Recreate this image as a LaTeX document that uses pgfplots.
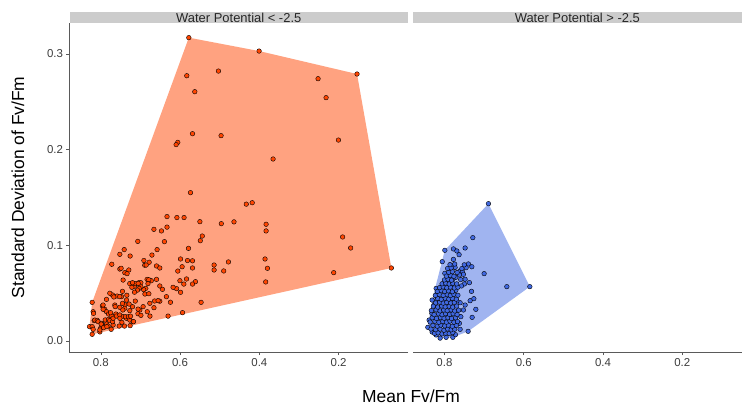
\documentclass[border=0pt]{standalone}
\usepackage{fontspec}
\setmainfont{Liberation Sans}
\usepackage{pgfplots}
\pgfplotsset{compat=1.18}

\definecolor{ptL}{RGB}{255,69,0}
\definecolor{hullL}{RGB}{255,162,128}
\definecolor{ptR}{RGB}{65,105,225}
\definecolor{hullR}{RGB}{160,180,240}
\definecolor{stripc}{RGB}{204,204,204}
\definecolor{axc}{RGB}{90,90,90}
\definecolor{tickc}{RGB}{60,60,60}

% left panel: water potential < -2.5
\pgfplotstableread{
x y
0.5780 0.3170
0.4007 0.3030
0.1536 0.2790
0.5032 0.2821
0.5831 0.2772
0.5629 0.2605
0.2519 0.2741
0.2317 0.2543
0.5687 0.2166
0.4966 0.2146
0.2005 0.2100
0.6058 0.2076
0.6100 0.2052
0.3654 0.1902
0.5738 0.1550
0.4330 0.1430
0.4180 0.1445
0.6330 0.1300
0.6080 0.1290
0.5900 0.1290
0.5500 0.1247
0.4960 0.1226
0.4640 0.1245
0.3830 0.1220
0.3830 0.1150
0.6330 0.1190
0.6470 0.1150
0.6660 0.1167
0.5440 0.1097
0.5490 0.1048
0.6395 0.1038
0.7067 0.1041
0.5788 0.0968
0.6580 0.0955
0.7410 0.0955
0.7520 0.0906
0.7260 0.0888
0.6710 0.0898
0.1900 0.1087
0.1697 0.0972
0.0670 0.0763
0.2124 0.0714
0.3857 0.0857
0.3796 0.0760
0.3840 0.0617
0.5142 0.0794
0.5142 0.0742
0.4780 0.0826
0.4899 0.0732
0.5989 0.0857
0.5813 0.0841
0.5687 0.0838
0.5687 0.0763
0.5949 0.0776
0.6058 0.0731
0.6595 0.0784
0.6913 0.0841
0.6780 0.0823
0.6892 0.0792
0.6855 0.0794
0.7723 0.0802
0.7520 0.0752
0.7294 0.0742
0.7395 0.0714
0.7488 0.0760
0.7337 0.0704
0.6512 0.0763
0.5838 0.0648
0.5612 0.0620
0.5687 0.0595
0.5906 0.0595
0.6004 0.0630
0.6088 0.0547
0.6177 0.0561
0.5989 0.0509
0.5938 0.0296
0.5470 0.0404
0.6303 0.0260
0.6243 0.0405
0.6345 0.0463
0.6512 0.0416
0.6643 0.0418
0.6555 0.0422
0.6512 0.0575
0.6445 0.0540
0.6595 0.0644
0.6726 0.0630
0.6832 0.0644
0.6790 0.0640
0.6810 0.0600
0.6865 0.0550
0.6920 0.0537
0.6990 0.0567
0.7034 0.0550
0.7075 0.0532
0.6887 0.0491
0.6788 0.0494
0.6764 0.0394
0.6933 0.0359
0.7016 0.0324
0.6659 0.0348
0.6828 0.0306
0.6760 0.0260
0.7063 0.0285
0.6988 0.0268
0.7060 0.0333
0.7200 0.0358
0.7130 0.0417
0.7150 0.0510
0.7150 0.0573
0.7217 0.0561
0.7133 0.0600
0.7040 0.0609
0.6990 0.0609
0.7058 0.0602
0.7270 0.0600
0.7200 0.0609
0.7437 0.0637
0.7344 0.0478
0.7352 0.0428
0.7395 0.0380
0.7285 0.0386
0.7454 0.0519
0.7478 0.0463
0.7589 0.0470
0.7705 0.0481
0.7773 0.0499
0.7672 0.0460
0.7522 0.0464
0.7453 0.0394
0.7647 0.0376
0.7521 0.0352
0.7395 0.0342
0.7269 0.0317
0.7857 0.0435
0.7960 0.0366
0.7942 0.0376
0.7899 0.0331
0.7856 0.0306
0.7942 0.0331
0.8218 0.0404
0.8194 0.0306
0.8184 0.0289
0.8218 0.0070
0.8285 0.0150
0.8218 0.0150
0.8167 0.0213
0.8151 0.0219
0.8090 0.0216
0.8068 0.0202
0.7983 0.0185
0.7856 0.0178
0.8007 0.0132
0.8024 0.0095
0.8025 0.0115
0.8193 0.0122
0.7941 0.0150
0.7815 0.0157
0.7689 0.0167
0.7991 0.0177
0.7889 0.0220
0.7931 0.0139
0.7805 0.0282
0.7721 0.0260
0.7754 0.0296
0.7620 0.0282
0.7805 0.0226
0.7773 0.0213
0.7705 0.0202
0.7689 0.0237
0.7605 0.0261
0.7521 0.0272
0.7437 0.0254
0.7353 0.0237
0.7269 0.0219
0.7185 0.0202
0.7738 0.0122
0.7847 0.0150
0.7519 0.0237
0.7536 0.0156
0.7402 0.0156
0.7469 0.0195
0.7377 0.0254
0.7302 0.0254
0.7260 0.0160
0.7175 0.0202
0.7250 0.0260
0.7445 0.0324
0.7638 0.0359
}\dataL

% right panel: water potential > -2.5
\pgfplotstableread{
x y
0.6890 0.1435
0.5846 0.0568
0.6426 0.0568
0.7284 0.1080
0.7990 0.0948
0.8055 0.0829
0.8209 0.0550
0.8134 0.0533
0.8419 0.0143
0.8108 0.0030
0.7788 0.0038
0.7957 0.0038
0.7402 0.0101
0.7722 0.0066
0.8310 0.0094
0.8209 0.0063
0.8386 0.0219
0.8318 0.0289
0.8310 0.0428
0.8260 0.0373
0.7478 0.0972
0.7773 0.0962
0.7687 0.0941
0.7630 0.0902
0.7773 0.0853
0.7395 0.0805
0.7309 0.0776
0.7453 0.0766
0.7773 0.0784
0.7731 0.0769
0.7612 0.0728
0.7546 0.0725
0.7521 0.0697
0.7622 0.0690
0.6999 0.0704
0.7990 0.0707
0.7856 0.0665
0.7788 0.0645
0.7713 0.0665
0.7478 0.0645
0.7370 0.0610
0.7496 0.0596
0.7571 0.0575
0.7881 0.0610
0.7965 0.0568
0.7813 0.0571
0.7713 0.0530
0.7317 0.0519
0.7258 0.0442
0.7352 0.0421
0.7478 0.0376
0.7208 0.0331
0.7301 0.0247
0.7604 0.0122
0.7622 0.0185
0.7586 0.0254
0.7521 0.0324
0.7604 0.0400
0.7687 0.0418
0.7773 0.0411
0.7874 0.0435
0.8025 0.0435
0.8126 0.0428
0.8192 0.0428
0.8250 0.0080
0.8160 0.0085
0.8060 0.0075
0.7970 0.0082
0.7880 0.0078
0.7790 0.0088
0.8340 0.0125
0.8220 0.0118
0.8110 0.0124
0.8010 0.0112
0.7920 0.0126
0.7830 0.0117
0.7740 0.0123
0.8290 0.0163
0.8180 0.0155
0.8090 0.0166
0.7990 0.0158
0.7900 0.0165
0.7800 0.0154
0.7700 0.0162
0.8360 0.0198
0.8240 0.0206
0.8140 0.0195
0.8040 0.0204
0.7950 0.0197
0.7860 0.0208
0.7760 0.0196
0.7670 0.0203
0.8310 0.0243
0.8200 0.0236
0.8100 0.0245
0.8010 0.0238
0.7910 0.0244
0.7820 0.0235
0.7720 0.0242
0.8260 0.0276
0.8150 0.0284
0.8060 0.0275
0.7970 0.0286
0.7870 0.0278
0.7780 0.0285
0.7680 0.0277
0.8330 0.0318
0.8210 0.0326
0.8110 0.0315
0.8020 0.0324
0.7930 0.0317
0.7830 0.0325
0.7740 0.0314
0.7640 0.0322
0.8280 0.0364
0.8170 0.0355
0.8070 0.0366
0.7980 0.0357
0.7880 0.0363
0.7790 0.0354
0.7690 0.0365
0.8220 0.0398
0.8120 0.0405
0.8030 0.0396
0.7940 0.0403
0.7840 0.0397
0.7750 0.0404
0.8170 0.0445
0.8080 0.0436
0.7980 0.0447
0.7890 0.0438
0.7800 0.0446
0.7700 0.0437
0.8230 0.0476
0.8130 0.0485
0.8030 0.0477
0.7930 0.0484
0.7850 0.0475
0.7760 0.0486
0.7660 0.0478
0.8180 0.0518
0.8080 0.0526
0.7990 0.0517
0.7900 0.0524
0.7800 0.0515
0.8120 0.0558
0.8030 0.0565
0.7940 0.0556
0.7850 0.0563
0.7750 0.0554
0.7660 0.0562
0.8060 0.0598
0.7970 0.0605
0.7880 0.0596
0.7790 0.0603
0.7690 0.0597
0.8000 0.0638
0.7910 0.0645
0.7820 0.0636
0.7590 0.0642
0.7950 0.0678
0.7850 0.0684
0.7760 0.0676
0.7890 0.0718
0.7800 0.0724
0.7680 0.0716
0.7920 0.0758
0.7830 0.0764
0.7560 0.0757
0.7860 0.0798
0.7740 0.0804
0.7500 0.0796
}\dataR

\begin{document}
\begin{tikzpicture}[x=1bp,y=1bp]
\path[use as bounding box] (0,0) rectangle (742,407);
\pgfplotsset{facet/.style={
  scale only axis, height=328.7bp,
  ymin=-0.0115, ymax=0.332, x dir=reverse,
  xtick={0.2,0.4,0.6,0.8},
  axis x line*=bottom,
  axis line style={draw=axc, line width=0.7bp, -},
  tick align=outside, major tick length=3bp,
  tick style={draw=axc, line width=0.6bp},
  ticklabel style={font=\fontsize{11.5}{13}\selectfont, text=tickc},
  /pgf/number format/assume math mode=true,
  xticklabel style={/pgf/number format/.cd, fixed, fixed zerofill, precision=1},
  yticklabel style={/pgf/number format/.cd, fixed, fixed zerofill, precision=1},
  clip=false}}

\begin{axis}[facet, name=L, at={(69.5bp,55bp)}, anchor=south west,
  width=338.5bp, xmin=0.025, xmax=0.879,
  axis y line*=left, ytick={0,0.1,0.2,0.3}]
\addplot[fill=hullL, draw=none] coordinates {(0.8285,0.0150) (0.8218,0.0070) (0.0670,0.0763) (0.1536,0.2790) (0.4007,0.3030) (0.5780,0.3170) (0.8218,0.0404) (0.8285,0.0150)};
\addplot[only marks, mark=*, mark size=2.3bp, mark options={fill=ptL, draw=black, line width=0.4bp}] table[x=x, y=y] {\dataL};
\end{axis}

\begin{axis}[facet, name=R, at={(412.7bp,55bp)}, anchor=south west,
  width=329.3bp, xmin=0.0495, xmax=0.88,
  axis y line=none, ytick=\empty]
\addplot[fill=hullR, draw=none] coordinates {(0.6890,0.1435) (0.5846,0.0568) (0.7402,0.0101) (0.7788,0.0038) (0.8108,0.0030) (0.8310,0.0094) (0.8419,0.0143) (0.8310,0.0428) (0.7990,0.0948) (0.6890,0.1435)};
\addplot[only marks, mark=*, mark size=2.3bp, mark options={fill=ptR, draw=black, line width=0.4bp}] table[x=x, y=y] {\dataR};
\end{axis}

\node[fill=stripc, anchor=south, minimum width=338.5bp, minimum height=11bp, inner sep=0pt,
  font=\fontsize{13}{13}\selectfont, text=black!85] at (L.north) {Water Potential < -2.5};
\node[fill=stripc, anchor=south, minimum width=329.3bp, minimum height=11bp, inner sep=0pt,
  font=\fontsize{13}{13}\selectfont, text=black!85] at (R.north) {Water Potential > -2.5};

\node[anchor=base, font=\fontsize{17.5}{20}\selectfont] at (411bp,5bp) {Mean Fv/Fm};
\node[anchor=base, rotate=90, font=\fontsize{17.5}{20}\selectfont] at (24bp,219.5bp) {Standard Deviation of Fv/Fm};
\end{tikzpicture}
\end{document}
